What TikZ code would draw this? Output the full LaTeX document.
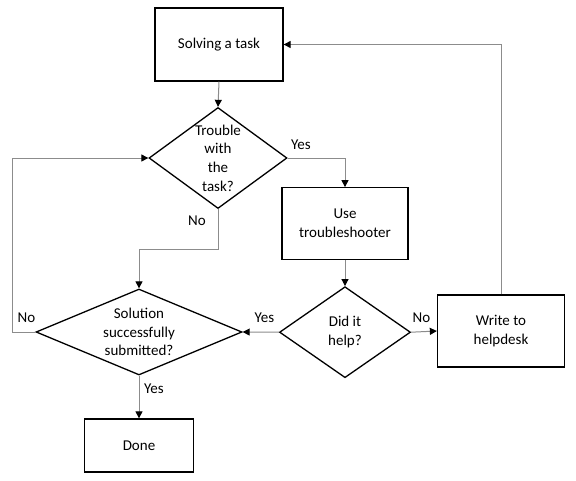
\documentclass[tikz,border=0pt]{standalone}
\usepackage{fontspec}
\setmainfont{Carlito}
\usetikzlibrary{shapes.geometric,arrows.meta}
\begin{document}
\begin{tikzpicture}[x=1pt,y=-1pt,
  font=\fontsize{15}{18.6}\selectfont,
  box/.style={draw=black,line width=1.3pt,rectangle,inner sep=0pt,align=center},
  dia/.style={draw=black,line width=1.3pt,diamond,inner sep=0pt},
  conn/.style={draw={rgb,255:red,140;green,140;blue,140},line width=1pt,
    -{Triangle[length=7pt,width=7pt,fill=black,color=black]}},
  lbl/.style={inner sep=0pt}]
\useasboundingbox (0,0) rectangle (576,480);
\fill[white] (0,0) rectangle (576,480);
% nodes
\node[box,minimum width=128pt,minimum height=73pt] (solve) at (219,44.5) {Solving a task};
\node[dia,minimum width=138pt,minimum height=101pt,
  label={[align=center,inner sep=0pt]center:Trouble\\with\\the\\task?}] (trouble) at (218,158) {};
\node[box,minimum width=126pt,minimum height=71.5pt] (use) at (345,223.5) {Use\\troubleshooter};
\node[dia,minimum width=206pt,minimum height=86pt,
  label={[align=center,inner sep=0pt]center:Solution\\successfully\\submitted?}] (sol) at (139,332) {};
\node[dia,minimum width=131pt,minimum height=91pt,
  label={[align=center,inner sep=0pt]center:Did it\\help?}] (help) at (345,332.2) {};
\node[box,minimum width=127pt,minimum height=72pt] (desk) at (501,331) {Write to\\helpdesk};
\node[box,minimum width=109pt,minimum height=53pt] (done) at (139,445.5) {Done};
% connector waypoints
\coordinate (c1) at (345,158);
\coordinate (c2) at (218,249);
\coordinate (c3) at (139,249);
\coordinate (c4) at (501,44.5);
\coordinate (c5) at (12.5,332);
\coordinate (c6) at (12.5,158);
% connectors
\draw[conn] (solve.south) -- (trouble.north);
\draw[conn] (trouble.east) -- (c1) -- (use.north);
\draw[conn] (trouble.south) -- (c2) -- (c3) -- (sol.north);
\draw[conn] (use.south) -- (help.north);
\draw[conn] (help.west) -- (sol.east);
\draw[conn] (help.east) -- (desk.west);
\draw[conn] (desk.north) -- (c4) -- (solve.east);
\draw[conn] (sol.west) -- (c5) -- (c6) -- (trouble.west);
\draw[conn] (sol.south) -- (done.north);
% labels
\node[lbl] (l1) at (301,145) {Yes};
\node[lbl] (l2) at (197,221) {No};
\node[lbl] (l3) at (26.5,318) {No};
\node[lbl] (l4) at (264.5,318) {Yes};
\node[lbl] (l5) at (421.5,318) {No};
\node[lbl] (l6) at (154,389) {Yes};
\end{tikzpicture}
\end{document}
